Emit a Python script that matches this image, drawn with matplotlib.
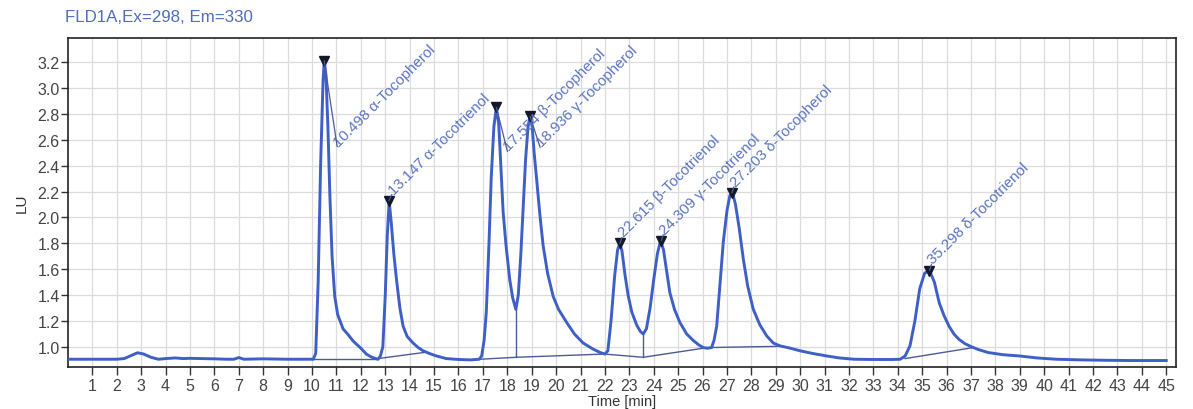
import matplotlib
matplotlib.use("Agg")
import matplotlib.pyplot as plt

# ---------------- data ----------------
time_min = [0.0, 1.0, 2.0, 2.3, 2.6, 2.85, 3.1, 3.4, 3.7, 4.0, 4.4, 4.7, 5.0, 5.5, 6.0, 6.5, 6.8, 7.0, 7.2, 8.0, 9.0, 10.0,
            10.05, 10.15, 10.25, 10.35, 10.45, 10.5, 10.57, 10.65, 10.73, 10.82, 10.93, 11.05, 11.27, 11.5, 11.68, 12.0, 12.23, 12.45, 12.7,
            12.8, 12.9, 13.0, 13.08, 13.16, 13.25, 13.35, 13.46, 13.6, 13.73, 13.9, 14.14, 14.35, 14.55, 14.8, 15.1, 15.5, 16.0, 16.5, 16.85,
            16.95, 17.05, 17.14, 17.25, 17.34, 17.45, 17.55, 17.65, 17.75, 17.83, 17.95, 18.1, 18.22, 18.35, 18.45, 18.55, 18.64, 18.75, 18.85,
            18.93, 19.02, 19.1, 19.2, 19.33, 19.47, 19.65, 19.88, 20.1, 20.43, 20.75, 21.11, 21.5, 21.8, 22.0,
            22.12, 22.25, 22.4, 22.52, 22.61, 22.7, 22.82, 22.95, 23.1, 23.3, 23.45, 23.57, 23.7, 23.85, 24.0, 24.15, 24.28, 24.4, 24.55,
            24.66, 24.85, 25.07, 25.35, 25.62, 25.85, 26.03, 26.2, 26.37,
            26.47, 26.58, 26.7, 26.85, 27.0, 27.12, 27.23, 27.35, 27.5, 27.67, 27.85, 28.08, 28.35, 28.63, 28.9, 29.18, 29.6, 30.0, 30.5,
            31.1, 31.6, 32.2, 33.0, 33.8, 34.1,
            34.3, 34.5, 34.7, 34.9, 35.1, 35.3, 35.5, 35.7, 35.9, 36.1, 36.3, 36.5, 36.75, 37.0, 37.3, 37.7, 38.3, 39.0, 39.7, 40.5, 41.5,
            42.5, 43.5, 45.0]
signal_lu = [0.905, 0.905, 0.905, 0.91, 0.935, 0.955, 0.945, 0.92, 0.905, 0.91, 0.915, 0.91, 0.912, 0.91, 0.908, 0.905, 0.905, 0.918, 0.905, 0.908, 0.905, 0.905,
             0.905, 0.95, 1.5, 2.4, 3.05, 3.21, 3.1, 2.7, 2.17, 1.7, 1.39, 1.25, 1.14, 1.09, 1.046, 0.99, 0.944, 0.92, 0.905,
             0.93, 1.0, 1.4, 1.85, 2.13, 1.95, 1.72, 1.52, 1.3, 1.16, 1.08, 1.03, 0.995, 0.97, 0.95, 0.93, 0.91, 0.903, 0.9, 0.905,
             0.93, 1.05, 1.27, 1.8, 2.3, 2.7, 2.85, 2.72, 2.35, 2.04, 1.78, 1.52, 1.38, 1.29, 1.4, 1.7, 2.04, 2.45, 2.7,
             2.78, 2.7, 2.5, 2.3, 2.03, 1.78, 1.57, 1.39, 1.29, 1.19, 1.1, 1.03, 0.985, 0.957, 0.945,
             0.97, 1.2, 1.55, 1.75, 1.8, 1.74, 1.56, 1.4, 1.27, 1.17, 1.12, 1.10, 1.14, 1.3, 1.52, 1.72, 1.82, 1.75, 1.56,
             1.42, 1.29, 1.19, 1.1, 1.05, 1.015, 0.995, 0.99, 0.995,
             1.05, 1.16, 1.45, 1.81, 2.05, 2.17, 2.19, 2.1, 1.92, 1.68, 1.47, 1.29, 1.17, 1.085, 1.03, 1.008, 0.99, 0.97, 0.95,
             0.93, 0.915, 0.905, 0.903, 0.903, 0.905,
             0.93, 1.008, 1.2, 1.45, 1.57, 1.59, 1.5, 1.34, 1.24, 1.16, 1.1, 1.06, 1.025, 1.003, 0.98, 0.957, 0.94, 0.93, 0.915, 0.905, 0.9,
             0.897, 0.895, 0.895]

peak_times = [10.498, 13.147, 17.554, 18.936, 22.615, 24.309, 27.203, 35.298]
peak_heights = [3.21, 2.13, 2.85, 2.78, 1.80, 1.82, 2.19, 1.59]
peak_names = ["α-Tocopherol", "α-Tocotrienol", "β-Tocopherol", "γ-Tocopherol",
              "β-Tocotrienol", "γ-Tocotrienol", "δ-Tocopherol", "δ-Tocotrienol"]

# integration baselines (time, LU) per segment
baseline_t = [[10.05, 12.7], [12.7, 14.7], [16.9, 18.35, 21.98], [21.98, 23.57, 26.2, 29.2], [34.3, 37.1]]
baseline_v = [[0.905, 0.905], [0.91, 0.96], [0.905, 0.92, 0.945], [0.945, 0.92, 0.995, 1.005], [0.91, 0.995]]
# drop lines at valleys (time, from LU, to LU)
drop_t = [18.35, 23.57]
drop_lo = [0.92, 0.92]
drop_hi = [1.29, 1.10]

x_ticks = list(range(1, 46))
y_ticks = [1.0, 1.2, 1.4, 1.6, 1.8, 2.0, 2.2, 2.4, 2.6, 2.8, 3.0, 3.2]

# label offsets in pixels (dx right, dy up) relative to peak top
label_off = [(17, -88), (7, 4), (15, -46), (14, -33), (6, 4), (6, 4), (6, 4), (6, 4)]

# ---------------- style ----------------
LINE = "#3d5fc6"
TXT = "#5a74c4"
FONT = ["Liberation Sans", "DejaVu Sans"]
plt.rcParams["font.family"] = FONT

fig = plt.figure(figsize=(11.93, 4.10), dpi=100)
ax = fig.add_axes([68 / 1193, 42 / 410, (1176 - 68) / 1193, (371 - 42) / 410])

ax.set_xlim(0, 45.4)
ax.set_ylim(0.845, 3.386)

ax.set_xticks(x_ticks)
ax.set_yticks(y_ticks)
ax.set_yticklabels([f"{v:.1f}" for v in y_ticks])
ax.grid(True, color="#dcdcdc", linewidth=0.9)
ax.set_axisbelow(True)
ax.tick_params(axis="x", direction="out", length=6, width=1, pad=2, labelsize=11.5, labelcolor="#444444", color="#333333")
ax.tick_params(axis="y", direction="out", length=5, width=1, pad=1, labelsize=11.5, labelcolor="#444444", color="#333333")
for s in ax.spines.values():
    s.set_color("#222222")
    s.set_linewidth(1.2)

# baselines
for bt, bv in zip(baseline_t, baseline_v):
    ax.plot(bt, bv, color="#4a5c94", linewidth=1.0, zorder=2)
for dt, lo, hi in zip(drop_t, drop_lo, drop_hi):
    ax.plot([dt, dt], [lo, hi], color="#4a5c94", linewidth=1.0, zorder=2)

# signal
ax.plot(time_min, signal_lu, color=LINE, linewidth=2.1, zorder=3, solid_joinstyle="round")

# peak markers
ax.plot(peak_times, peak_heights, linestyle="none", marker="v", markersize=7.5,
        color="#15182a", zorder=4)

# labels and leader lines
px2pt = 72 / 100
for t, h, name, (dx, dy) in zip(peak_times, peak_heights, peak_names, label_off):
    lab = f"{t:.3f} {name}"
    ax.annotate(lab, xy=(t, h), xytext=(dx * px2pt, dy * px2pt), textcoords="offset points",
                rotation=45, rotation_mode="anchor", ha="left", va="bottom",
                fontsize=10.8, color=TXT, family=FONT, zorder=5)
    ax.annotate("", xy=(t, h), xytext=((dx - 4) * px2pt, (dy + 2) * px2pt), textcoords="offset points",
                arrowprops=dict(arrowstyle="-", color="#4a5c94", lw=0.9, shrinkA=0, shrinkB=0), zorder=5)

fig.text(65 / 1193, 1 - 18 / 410, "FLD1A,Ex=298, Em=330", fontsize=12.2, color="#4f6dba",
         ha="left", va="center")
ax.set_xlabel("Time [min]", fontsize=10.5, color="#333333", labelpad=1)
ax.set_ylabel("LU", fontsize=11, color="#333333", labelpad=6)

fig.savefig("out.png", dpi=100)
